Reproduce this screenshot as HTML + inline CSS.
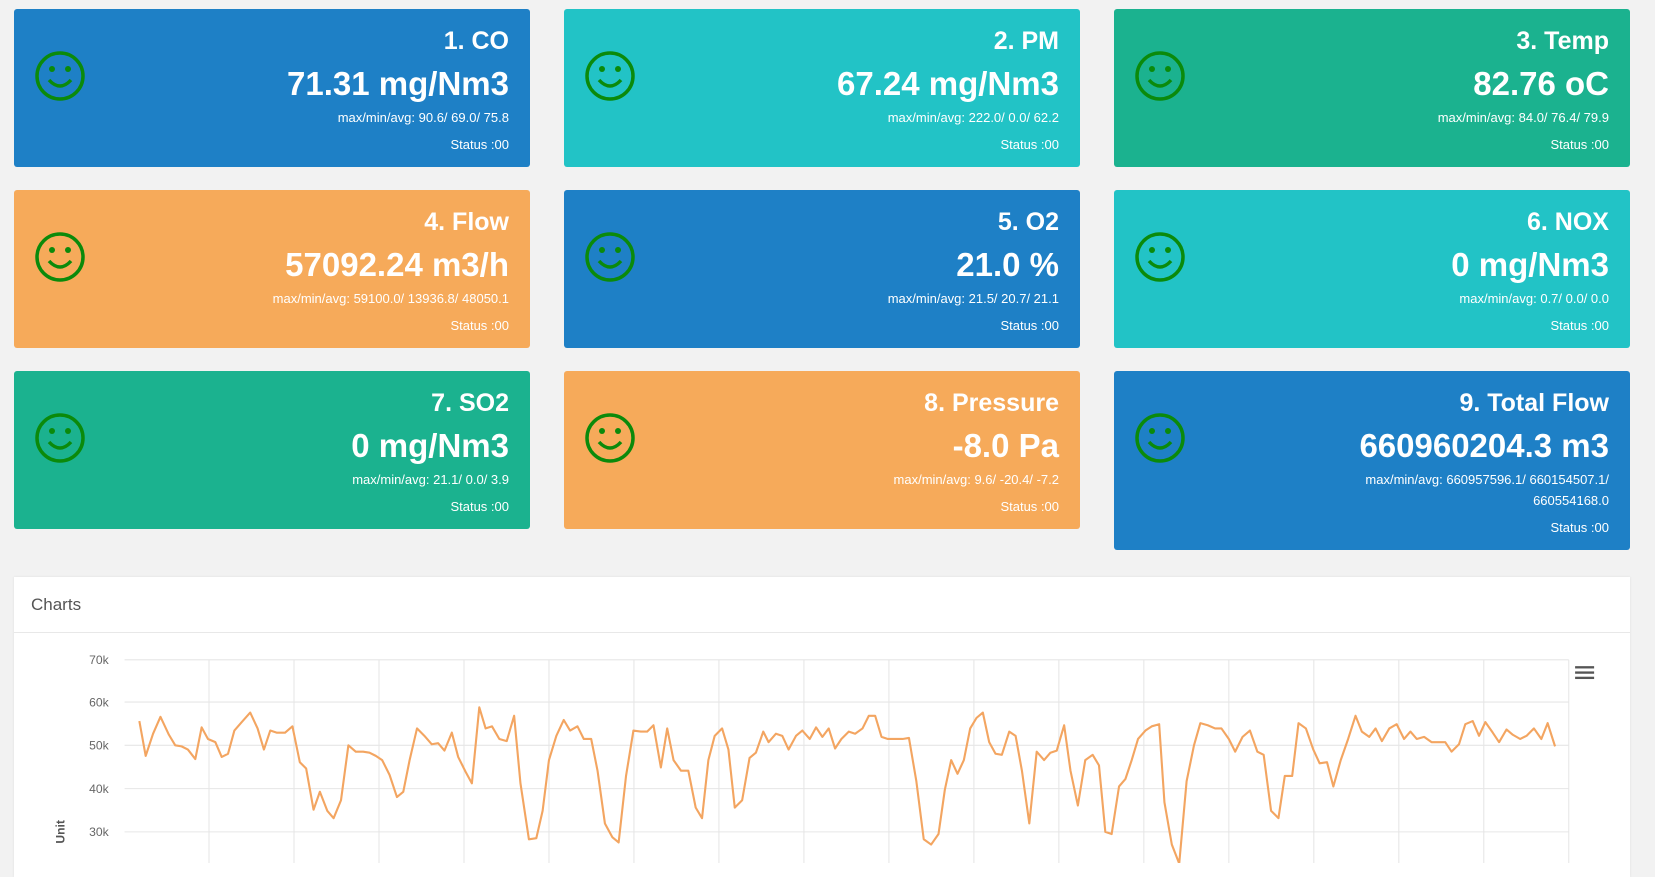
<!DOCTYPE html>
<html><head><meta charset="utf-8"><style>
body{margin:0;width:1655px;height:863px;overflow:hidden;background:#f2f2f2;font-family:"Liberation Sans",sans-serif;position:relative}
.c{position:absolute;width:516px;height:158px;border-radius:3px;color:#fff;text-align:right;box-sizing:border-box;padding-right:21px}
.b{background:#1e80c6}.cy{background:#22c3c6}.t{background:#1bb28f}.o{background:#f6aa5a}
.c .h{position:absolute;right:21px;top:18px;font-size:25px;font-weight:bold;white-space:nowrap}
.c .v{position:absolute;right:21px;top:56px;font-size:33px;font-weight:bold;white-space:nowrap}
.c .s{position:absolute;right:21px;top:98px;font-size:13px;line-height:21px;width:290px}
.c .st{position:absolute;right:21px;top:128px;font-size:13px}
.c svg{position:absolute;left:20px;top:41px}
.panel{position:absolute;left:14px;top:577px;width:1616px;height:300px;background:#fff;box-shadow:0 0 2px #ddd}
.panel .hd{height:55px;border-bottom:1px solid #e8e8e8;font-size:17px;color:#555;line-height:55px;padding-left:17px}
</style></head><body>

<div class="c b" style="left:14px;top:9px"><svg width="52" height="52"><circle cx="26" cy="26" r="23" fill="none" stroke="#0b8a0b" stroke-width="3.5"/><circle cx="18" cy="19" r="3" fill="#0b8a0b"/><circle cx="34" cy="19" r="3" fill="#0b8a0b"/><path d="M15 30 Q26 42 37 30" fill="none" stroke="#0b8a0b" stroke-width="3.5"/></svg><div class="h">1. CO</div><div class="v">71.31 mg/Nm3</div><div class="s">max/min/avg: 90.6/ 69.0/ 75.8</div><div class="st">Status :00</div></div>
<div class="c cy" style="left:564px;top:9px"><svg width="52" height="52"><circle cx="26" cy="26" r="23" fill="none" stroke="#0b8a0b" stroke-width="3.5"/><circle cx="18" cy="19" r="3" fill="#0b8a0b"/><circle cx="34" cy="19" r="3" fill="#0b8a0b"/><path d="M15 30 Q26 42 37 30" fill="none" stroke="#0b8a0b" stroke-width="3.5"/></svg><div class="h">2. PM</div><div class="v">67.24 mg/Nm3</div><div class="s">max/min/avg: 222.0/ 0.0/ 62.2</div><div class="st">Status :00</div></div>
<div class="c t" style="left:1114px;top:9px"><svg width="52" height="52"><circle cx="26" cy="26" r="23" fill="none" stroke="#0b8a0b" stroke-width="3.5"/><circle cx="18" cy="19" r="3" fill="#0b8a0b"/><circle cx="34" cy="19" r="3" fill="#0b8a0b"/><path d="M15 30 Q26 42 37 30" fill="none" stroke="#0b8a0b" stroke-width="3.5"/></svg><div class="h">3. Temp</div><div class="v">82.76 oC</div><div class="s">max/min/avg: 84.0/ 76.4/ 79.9</div><div class="st">Status :00</div></div>

<div class="c o" style="left:14px;top:190px"><svg width="52" height="52"><circle cx="26" cy="26" r="23" fill="none" stroke="#0b8a0b" stroke-width="3.5"/><circle cx="18" cy="19" r="3" fill="#0b8a0b"/><circle cx="34" cy="19" r="3" fill="#0b8a0b"/><path d="M15 30 Q26 42 37 30" fill="none" stroke="#0b8a0b" stroke-width="3.5"/></svg><div class="h">4. Flow</div><div class="v">57092.24 m3/h</div><div class="s">max/min/avg: 59100.0/ 13936.8/ 48050.1</div><div class="st">Status :00</div></div>
<div class="c b" style="left:564px;top:190px"><svg width="52" height="52"><circle cx="26" cy="26" r="23" fill="none" stroke="#0b8a0b" stroke-width="3.5"/><circle cx="18" cy="19" r="3" fill="#0b8a0b"/><circle cx="34" cy="19" r="3" fill="#0b8a0b"/><path d="M15 30 Q26 42 37 30" fill="none" stroke="#0b8a0b" stroke-width="3.5"/></svg><div class="h">5. O2</div><div class="v">21.0 %</div><div class="s">max/min/avg: 21.5/ 20.7/ 21.1</div><div class="st">Status :00</div></div>
<div class="c cy" style="left:1114px;top:190px"><svg width="52" height="52"><circle cx="26" cy="26" r="23" fill="none" stroke="#0b8a0b" stroke-width="3.5"/><circle cx="18" cy="19" r="3" fill="#0b8a0b"/><circle cx="34" cy="19" r="3" fill="#0b8a0b"/><path d="M15 30 Q26 42 37 30" fill="none" stroke="#0b8a0b" stroke-width="3.5"/></svg><div class="h">6. NOX</div><div class="v">0 mg/Nm3</div><div class="s">max/min/avg: 0.7/ 0.0/ 0.0</div><div class="st">Status :00</div></div>

<div class="c t" style="left:14px;top:371px"><svg width="52" height="52"><circle cx="26" cy="26" r="23" fill="none" stroke="#0b8a0b" stroke-width="3.5"/><circle cx="18" cy="19" r="3" fill="#0b8a0b"/><circle cx="34" cy="19" r="3" fill="#0b8a0b"/><path d="M15 30 Q26 42 37 30" fill="none" stroke="#0b8a0b" stroke-width="3.5"/></svg><div class="h">7. SO2</div><div class="v">0 mg/Nm3</div><div class="s">max/min/avg: 21.1/ 0.0/ 3.9</div><div class="st">Status :00</div></div>
<div class="c o" style="left:564px;top:371px"><svg width="52" height="52"><circle cx="26" cy="26" r="23" fill="none" stroke="#0b8a0b" stroke-width="3.5"/><circle cx="18" cy="19" r="3" fill="#0b8a0b"/><circle cx="34" cy="19" r="3" fill="#0b8a0b"/><path d="M15 30 Q26 42 37 30" fill="none" stroke="#0b8a0b" stroke-width="3.5"/></svg><div class="h">8. Pressure</div><div class="v">-8.0 Pa</div><div class="s">max/min/avg: 9.6/ -20.4/ -7.2</div><div class="st">Status :00</div></div>
<div class="c b" style="left:1114px;top:371px;height:179px"><svg width="52" height="52"><circle cx="26" cy="26" r="23" fill="none" stroke="#0b8a0b" stroke-width="3.5"/><circle cx="18" cy="19" r="3" fill="#0b8a0b"/><circle cx="34" cy="19" r="3" fill="#0b8a0b"/><path d="M15 30 Q26 42 37 30" fill="none" stroke="#0b8a0b" stroke-width="3.5"/></svg><div class="h">9. Total Flow</div><div class="v">660960204.3 m3</div><div class="s">max/min/avg: 660957596.1/ 660154507.1/ 660554168.0</div><div class="st" style="top:149px">Status :00</div></div>

<div class="panel"><div class="hd">Charts</div></div>

<svg style="position:absolute;left:0;top:0" width="1655" height="863">
<g transform="scale(1.0557)">
<g stroke="#e6e6e6" stroke-width="1">
<line x1="118" x2="1486" y1="625" y2="625"/><line x1="118" x2="1486" y1="665" y2="665"/><line x1="118" x2="1486" y1="706" y2="706"/><line x1="118" x2="1486" y1="747" y2="747"/><line x1="118" x2="1486" y1="788" y2="788"/>
<line x1="198" x2="198" y1="625" y2="820"/><line x1="278.5" x2="278.5" y1="625" y2="820"/><line x1="359" x2="359" y1="625" y2="820"/><line x1="439.5" x2="439.5" y1="625" y2="820"/><line x1="520" x2="520" y1="625" y2="820"/><line x1="600.5" x2="600.5" y1="625" y2="820"/><line x1="681" x2="681" y1="625" y2="820"/><line x1="761.5" x2="761.5" y1="625" y2="820"/><line x1="842" x2="842" y1="625" y2="820"/><line x1="922.5" x2="922.5" y1="625" y2="820"/><line x1="1003" x2="1003" y1="625" y2="820"/><line x1="1083.5" x2="1083.5" y1="625" y2="820"/><line x1="1164" x2="1164" y1="625" y2="820"/><line x1="1244.5" x2="1244.5" y1="625" y2="820"/><line x1="1325" x2="1325" y1="625" y2="820"/><line x1="1405.5" x2="1405.5" y1="625" y2="820"/><line x1="1486" x2="1486" y1="625" y2="820"/>
</g>
<g font-family="Liberation Sans, sans-serif" font-size="11.5" fill="#666" text-anchor="end">
<text x="103" y="629">70k</text><text x="103" y="669">60k</text><text x="103" y="710">50k</text><text x="103" y="751">40k</text><text x="103" y="792">30k</text>
</g>
<text transform="translate(61,788) rotate(-90)" text-anchor="middle" font-family="Liberation Sans, sans-serif" font-size="11.5" font-weight="bold" fill="#555">Unit</text>
<g fill="#555"><rect x="1492" y="631" width="18" height="2.2"/><rect x="1492" y="636" width="18" height="2.2"/><rect x="1492" y="641" width="18" height="2.2"/></g>
<polyline fill="none" stroke="#f3a561" stroke-width="2" stroke-linejoin="round" points="132,683 138,716 145,695 152,679 160,696 166,706 172,707 178,710 185,719 191,689 197,700 204,703 210,717 216,714 222,692 229,684 237,675 244,690 250,710 256,692 262,694 270,694 277,688 284,722 290,728 297,767 303,750 310,768 316,775 323,758 330,706 337,712 344,712 350,713 356,716 362,720 369,734 376,755 382,750 388,720 395,690 402,697 409,705 415,704 421,711 428,694 434,717 441,731 447,742 454,670 460,690 466,688 473,700 480,702 487,678 493,742 501,795 508,794 514,768 520,720 527,697 534,682 540,692 547,688 553,700 560,700 566,730 573,780 580,793 586,798 593,735 600,692 607,693 613,693 619,687 626,727 632,690 638,720 645,730 652,730 659,765 665,775 671,720 677,697 684,690 690,710 696,765 703,758 710,718 716,713 723,693 728,703 735,695 741,697 747,710 754,697 760,692 767,700 773,689 779,698 785,690 791,709 797,700 804,693 810,695 817,690 823,678 829,678 835,698 841,700 848,700 855,700 861,699 868,740 875,795 882,800 889,790 895,748 901,720 907,733 913,720 919,690 925,680 931,675 937,703 943,714 949,715 956,693 962,697 968,730 975,780 982,712 989,720 995,713 1001,711 1008,687 1014,730 1021,763 1028,720 1035,715 1041,725 1047,788 1053,790 1060,745 1066,738 1072,720 1078,700 1085,692 1091,688 1098,686 1103,760 1110,800 1117,818 1124,740 1131,706 1137,685 1144,687 1151,690 1157,690 1164,700 1170,712 1177,698 1184,692 1191,712 1197,715 1204,768 1211,775 1217,735 1224,735 1230,685 1237,690 1244,710 1250,723 1257,722 1263,745 1270,720 1277,700 1284,678 1290,693 1297,698 1303,690 1309,702 1316,690 1323,686 1330,700 1336,693 1342,700 1349,698 1356,703 1362,703 1369,703 1375,712 1382,705 1388,686 1395,683 1401,697 1407,684 1414,694 1420,703 1427,691 1433,696 1440,700 1446,697 1453,690 1460,700 1466,685 1473,707"/>
</g>
</svg>
</body></html>
